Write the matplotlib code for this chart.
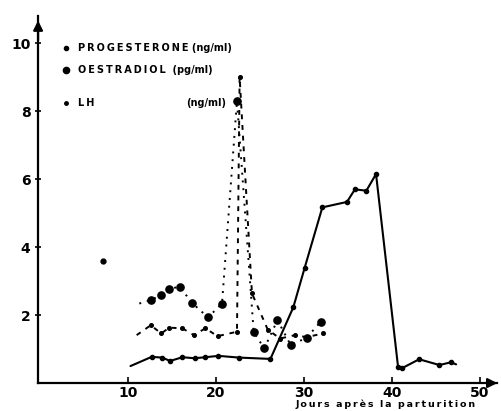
import matplotlib
matplotlib.use("Agg")
import matplotlib.pyplot as plt

# Progesterone (ng/ml)
prog_x = [10.3, 12.7, 13.9, 14.8, 16.2, 17.6, 18.8, 20.3, 22.6, 26.2, 28.8, 30.1,
          32.1, 34.9, 35.8, 37.1, 38.2, 40.7, 41.1, 43.1, 45.4, 46.7, 47.3]
prog_y = [0.50, 0.77, 0.75, 0.65, 0.76, 0.73, 0.76, 0.80, 0.75, 0.71, 2.23, 3.40,
          5.17, 5.33, 5.70, 5.66, 6.15, 0.48, 0.43, 0.70, 0.53, 0.61, 0.55]

# Oestradiol (pg/ml)
oes_x = [12.6, 13.8, 14.7, 15.9, 17.3, 19.1, 20.7, 22.4, 24.3, 25.5, 27.0, 28.5, 30.3, 31.9]
oes_y = [2.44, 2.59, 2.78, 2.83, 2.36, 1.93, 2.34, 8.30, 1.50, 1.02, 1.85, 1.12, 1.33, 1.80]
oes_line_start = [11.3, 2.34]
oes_iso_x = [7.2]
oes_iso_y = [3.6]

# LH (ng/ml)
lh_x = [11.0, 12.6, 13.8, 14.7, 16.2, 17.5, 18.8, 20.2, 22.4, 22.7, 24.1, 25.9, 27.3, 29.0, 30.3, 32.2]
lh_y = [1.41, 1.70, 1.46, 1.63, 1.61, 1.41, 1.61, 1.38, 1.51, 9.00, 2.64, 1.57, 1.31, 1.41, 1.35, 1.46]

xticks = [10, 20, 30, 40, 50]
yticks = [2, 4, 6, 8, 10]


def spaced(s):
    return '\u2009'.join(s)


fig = plt.figure(figsize=(5.01, 4.11), dpi=100)
ax = fig.add_axes([0.076, 0.068, 0.917, 0.893])
ax.set_xlim(-0.2, 52)
ax.set_ylim(0, 10.8)

# Progesterone
ax.plot(prog_x, prog_y, color='black', lw=1.5, solid_capstyle='round')
ax.plot(prog_x[1:-1], prog_y[1:-1], 'o', color='black', ms=3, ls='none')

# Oestradiol
ax.plot([oes_line_start[0]] + oes_x, [oes_line_start[1]] + oes_y, color='black', lw=1.4,
        ls=(0, (1, 3)))
ax.plot(oes_x, oes_y, 'o', color='black', ms=5.2, ls='none')
ax.plot(oes_iso_x, oes_iso_y, 'o', color='black', ms=3.5, ls='none')

# LH
ax.plot(lh_x, lh_y, color='black', lw=1.4, ls=(0, (2.5, 3)))
ax.plot(lh_x[1:], lh_y[1:], 'o', color='black', ms=2.6, ls='none')

# axes styling
for s in ['top', 'right']:
    ax.spines[s].set_visible(False)
ax.spines['left'].set_linewidth(1.6)
ax.spines['bottom'].set_linewidth(1.6)
ax.annotate('', xy=(-0.2, 10.75), xytext=(-0.2, 10.0), xycoords='data',
            arrowprops=dict(arrowstyle='-|>', color='black', lw=1.6, mutation_scale=14),
            annotation_clip=False)
ax.annotate('', xy=(52.3, 0), xytext=(50.5, 0), xycoords='data',
            arrowprops=dict(arrowstyle='-|>', color='black', lw=1.6, mutation_scale=14),
            annotation_clip=False)

ax.set_xticks(xticks)
ax.set_yticks(yticks)
ax.set_xticklabels([str(t) for t in xticks], fontweight='bold', fontsize=10)
ax.set_yticklabels([str(t) for t in yticks], fontweight='bold', fontsize=10)
ax.tick_params(axis='x', direction='in', length=4, width=1.2, pad=2)
ax.tick_params(axis='y', direction='inout', length=5, width=1.2, pad=3)

ax.text(39.3, -0.62, spaced('Jours') + '  ' + spaced('après') + '  ' + spaced('la') + '  ' + spaced('parturition'),
        fontsize=6.8, fontweight='bold', ha='center', va='center', clip_on=False)

# legend-like labels
ax.plot([3.0], [9.85], 'o', color='black', ms=3)
ax.text(4.3, 9.85, spaced('PROGESTERONE') + ' (ng/ml)', fontsize=7, fontweight='bold', va='center')
ax.plot([3.0], [9.2], 'o', color='black', ms=4.5)
ax.text(4.3, 9.2, spaced('OESTRADIOL') + '  (pg/ml)', fontsize=7, fontweight='bold', va='center')
ax.plot([3.0], [8.25], 'o', color='black', ms=2.5)
ax.text(4.3, 8.25, spaced('LH'), fontsize=7, fontweight='bold', va='center')
ax.text(16.6, 8.25, '(ng/ml)', fontsize=7, fontweight='bold', va='center')

fig.savefig('out.png', dpi=100)
